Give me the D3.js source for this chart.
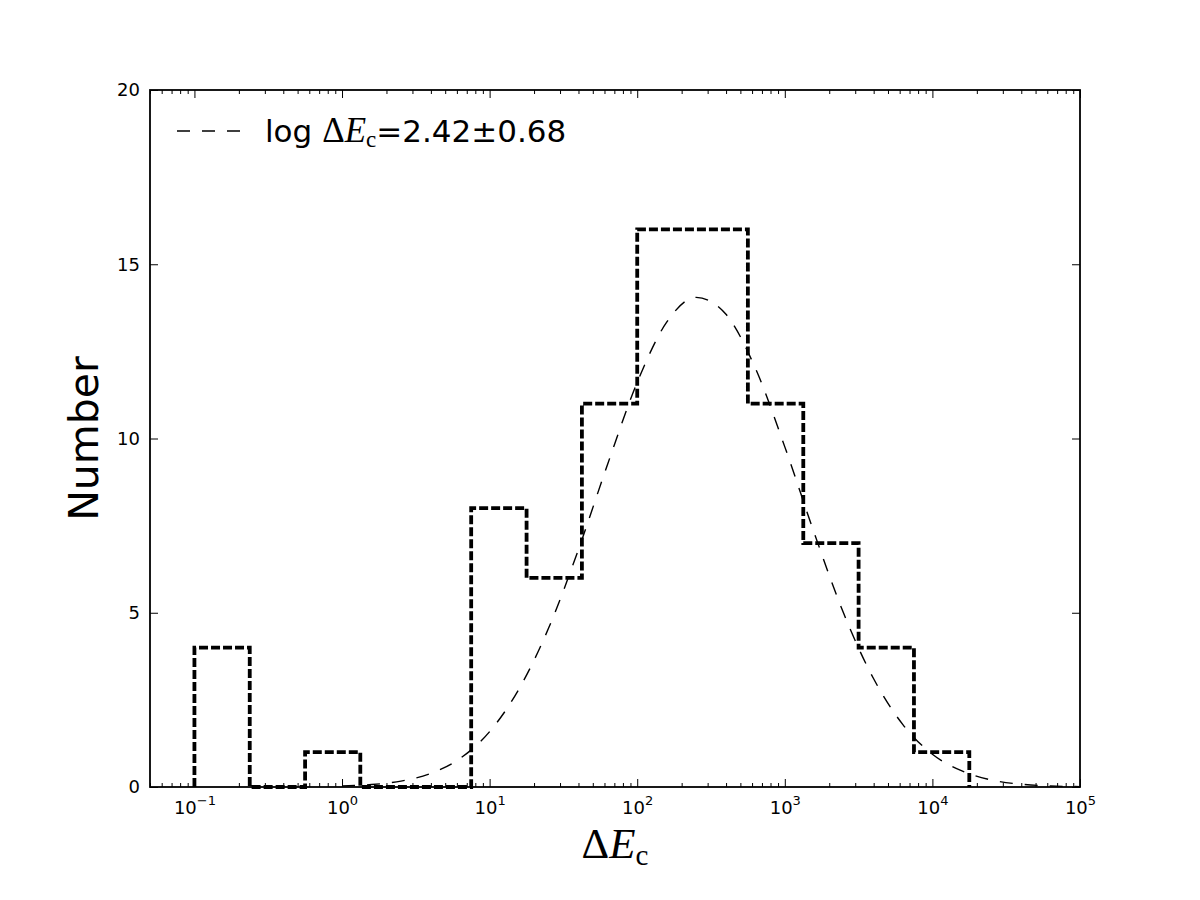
<!DOCTYPE html>
<html>
<head>
<meta charset="utf-8">
<script src="https://cdn.jsdelivr.net/npm/d3@7"></script>
<style>
  body { margin: 0; background: #fff; }
  svg { display: block; }
</style>
</head>
<body>
<script>
// canvas and plot box
var w = 1200;
var h = 900;
var plotLeft = 150, plotRight = 1080, plotTop = 90, plotBottom = 787;

// histogram (bin edges in Delta E_c, counts per bin)
var binEdges = [0.1, 0.237, 0.562, 1.33, 3.16, 7.5, 17.8, 42.2, 100, 237, 562, 1334, 3162, 7499, 17783];
var binCounts = [4, 0, 1, 0, 0, 8, 6, 11, 16, 16, 11, 7, 4, 1];

// dashed fit curve
var fitX = [1, 1.58, 2.51, 3.98, 6.31, 10, 15.8, 25.1, 39.8, 63.1, 100, 158, 251, 398, 631,
            1000, 1585, 2512, 3981, 6310, 10000, 15850, 25120, 39810, 63100, 100000];
var fitY = [0.03, 0.07, 0.17, 0.39, 0.82, 1.59, 2.81, 4.56, 6.79, 9.27, 11.61, 13.33, 14.05, 13.57, 12.02,
            9.76, 7.28, 4.97, 3.12, 1.79, 0.94, 0.46, 0.20, 0.08, 0.03, 0.01];

// axis ticks
var xMajor = [0.1, 1, 10, 100, 1000, 10000, 100000];
var xExponents = ["\u22121", "0", "1", "2", "3", "4", "5"];
var yTicks = [0, 5, 10, 15, 20];

var sansFont = "'DejaVu Sans', sans-serif";
var serifFont = "'Liberation Serif', 'DejaVu Serif', serif";
var thinDash = "13,12";

var svg = d3.select("body")
			.append("svg")
			.attr("width", w)
			.attr("height", h);

var x = d3.scaleLog().domain([0.05, 100000]).range([plotLeft, plotRight]);
var y = d3.scaleLinear().domain([0, 20]).range([plotBottom, plotTop]);

// minor ticks 2..9 x 10^k
var xMinor = [];
[0.01, 0.1, 1, 10, 100, 1000, 10000].forEach(function(dec) {
	for (var k = 2; k <= 9; k++) {
		var v = dec * k;
		if (v >= 0.05 && v <= 100000) xMinor.push(v);
	}
});

// ---- axes (ticks pointing inward) ----
function styleAxis(g) {
	g.select(".domain").remove();
	g.selectAll(".tick line").attr("stroke", "#000").attr("stroke-width", 1);
}

svg.append("g").attr("transform", "translate(0," + plotBottom + ")")
	.call(d3.axisBottom(x).tickValues(xMinor).tickSize(-4).tickFormat(""))
	.call(styleAxis);
svg.append("g").attr("transform", "translate(0," + plotTop + ")")
	.call(d3.axisTop(x).tickValues(xMinor).tickSize(-4).tickFormat(""))
	.call(styleAxis);
svg.append("g").attr("transform", "translate(0," + plotTop + ")")
	.call(d3.axisTop(x).tickValues(xMajor).tickSize(-8).tickFormat(""))
	.call(styleAxis);

var xAxis = svg.append("g").attr("transform", "translate(0," + plotBottom + ")")
	.call(d3.axisBottom(x).tickValues(xMajor).tickSize(-8).tickPadding(15).tickFormat(""))
	.call(styleAxis);

// x tick labels as 10 with a superscript exponent
xAxis.selectAll(".tick text").each(function(d, i) {
	var t = d3.select(this)
		.attr("fill", "#000")
		.attr("font-family", sansFont)
		.attr("font-size", "18px")
		.attr("dy", null)
		.attr("y", 27)
		.attr("text-anchor", "middle");
	t.append("tspan").text("10");
	t.append("tspan").attr("dy", -9).attr("font-size", "13px").text(xExponents[i]);
});

svg.append("g").attr("transform", "translate(" + plotLeft + ",0)")
	.call(d3.axisLeft(y).tickValues(yTicks).tickSize(-8).tickPadding(10))
	.call(styleAxis)
	.selectAll(".tick text")
	.attr("fill", "#000")
	.attr("font-family", sansFont)
	.attr("font-size", "18px");

svg.append("g").attr("transform", "translate(" + plotRight + ",0)")
	.call(d3.axisRight(y).tickValues(yTicks).tickSize(-8).tickFormat(""))
	.call(styleAxis);

// ---- step histogram ----
var stepPts = [[binEdges[0], 0]];
binCounts.forEach(function(c, i) {
	stepPts.push([binEdges[i], c]);
	stepPts.push([binEdges[i + 1], c]);
});
stepPts.push([binEdges[binEdges.length - 1], 0]);

svg.append("path")
	.datum(stepPts)
	.attr("d", d3.line().x(function(d) { return x(d[0]); }).y(function(d) { return y(d[1]); }))
	.attr("fill", "none")
	.attr("stroke", "#000")
	.attr("stroke-width", 3.8)
	.attr("stroke-dasharray", "9,3");

// ---- fit curve ----
var fitPts = fitX.map(function(v, i) { return [v, fitY[i]]; });
svg.append("path")
	.datum(fitPts)
	.attr("d", d3.line()
		.x(function(d) { return x(d[0]); })
		.y(function(d) { return y(d[1]); })
		.curve(d3.curveMonotoneX))
	.attr("fill", "none")
	.attr("stroke", "#000")
	.attr("stroke-width", 1.4)
	.attr("stroke-dasharray", thinDash);

// frame
svg.append("rect")
	.attr("x", plotLeft).attr("y", plotTop)
	.attr("width", plotRight - plotLeft).attr("height", plotBottom - plotTop)
	.attr("fill", "none")
	.attr("stroke", "#000")
	.attr("stroke-width", 1.8);

// ---- legend ----
svg.append("line")
	.attr("x1", 177).attr("x2", 243)
	.attr("y1", 131).attr("y2", 131)
	.attr("stroke", "#000")
	.attr("stroke-width", 1.4)
	.attr("stroke-dasharray", thinDash);

var leg = svg.append("text")
	.attr("x", 265).attr("y", 142)
	.attr("font-family", sansFont)
	.attr("font-size", "31px")
	.attr("fill", "#000");
leg.append("tspan").text("log ");
leg.append("tspan").attr("font-family", serifFont).attr("font-size", "35px").text("\u0394");
leg.append("tspan").attr("font-family", serifFont).attr("font-size", "35px").attr("font-style", "italic").text("E");
leg.append("tspan").attr("font-family", serifFont).attr("font-size", "23px").attr("dy", 5).text("c");
leg.append("tspan").attr("dy", -5).text("=2.42\u00b10.68");

// ---- axis titles ----
var xl = svg.append("text")
	.attr("x", 615).attr("y", 858)
	.attr("text-anchor", "middle")
	.attr("font-family", serifFont)
	.attr("font-size", "43px")
	.attr("fill", "#000");
xl.append("tspan").text("\u0394");
xl.append("tspan").attr("font-style", "italic").text("E");
xl.append("tspan").attr("font-size", "29px").attr("dy", 7).text("c");

svg.append("text")
	.attr("transform", "translate(98," + ((plotTop + plotBottom) / 2) + ") rotate(-90)")
	.attr("text-anchor", "middle")
	.attr("font-family", sansFont)
	.attr("font-size", "41px")
	.attr("fill", "#000")
	.text("Number");
</script>
</body>
</html>
